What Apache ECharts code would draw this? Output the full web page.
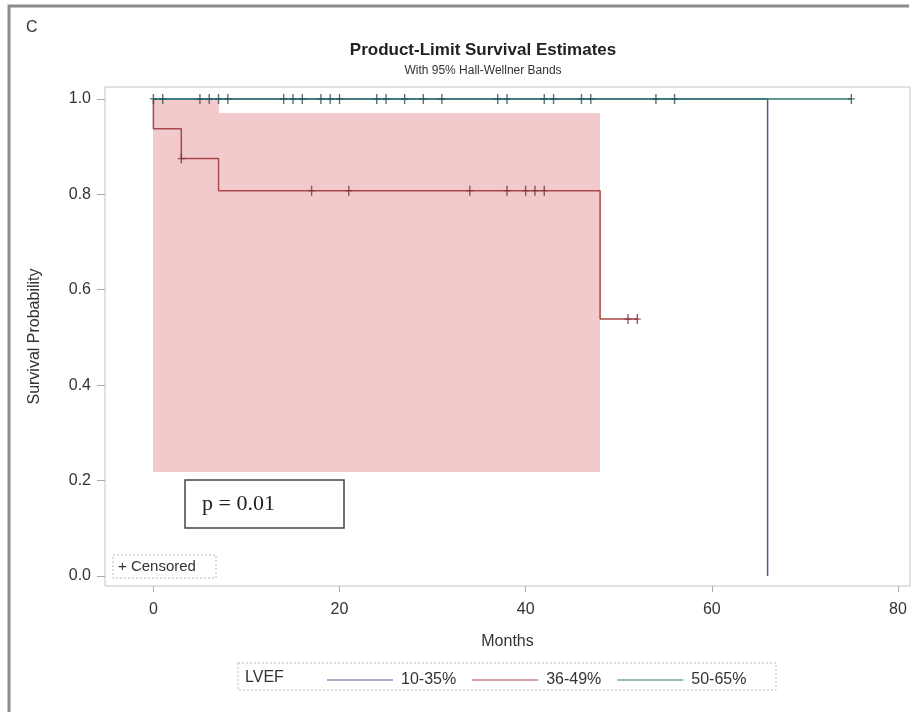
<!DOCTYPE html>
<html>
<head>
<meta charset="utf-8">
<script src="https://cdn.jsdelivr.net/npm/echarts@6/dist/echarts.min.js"></script>
<style>
  html, body { margin: 0; padding: 0; background: #fff; }
  #chart { width: 913px; height: 712px; }
</style>
</head>
<body>
<div id="chart"></div>
<script>
// ---- data ----
const groupNames = ['10-35%', '36-49%', '50-65%'];

// 10-35%
const blueTimes = [0, 66];
const blueSurv  = [1.0, 0.0];

// 36-49%
const redTimes = [0, 0, 3, 7, 48, 52];
const redSurv  = [1.0, 0.9375, 0.875, 0.8077, 0.5385, 0.5385];
const redCensorTimes = [3, 17, 21, 34, 38, 40, 41, 42, 51, 52];
const redCensorSurv  = [0.875, 0.8077, 0.8077, 0.8077, 0.8077, 0.8077, 0.8077, 0.8077, 0.5385, 0.5385];

// 50-65%
const greenTimes = [0, 75];
const greenSurv  = [1.0, 1.0];
const greenCensorTimes = [0, 1, 5, 6, 7, 8, 14, 15, 16, 18, 19, 20, 24, 25, 27, 29, 31, 37, 38, 42, 43, 46, 47, 54, 56, 75];
const greenCensorSurv  = [1, 1, 1, 1, 1, 1, 1, 1, 1, 1, 1, 1, 1, 1, 1, 1, 1, 1, 1, 1, 1, 1, 1, 1, 1, 1];

// Hall-Wellner band for 36-49%
const bandStart = [0, 7];
const bandEnd   = [7, 48];
const bandLower = [0.217, 0.217];
const bandUpper = [1.0, 0.97];

// axis ticks
const xTicks = [0, 20, 40, 60, 80];
const yTicks = [0, 0.2, 0.4, 0.6, 0.8, 1.0];

// ---- build ----
const zip = (a, b) => a.map((v, i) => [v, b[i]]);
const bandData = bandStart.map((s, i) => [s, bandEnd[i], bandLower[i], bandUpper[i]]);

const colors = ['#4b5a94', '#a8484a', '#2d7b70'];
const plusPath = 'path://M-0.6,-5 L0.6,-5 L0.6,-0.6 L3,-0.6 L3,0.6 L0.6,0.6 L0.6,5 L-0.6,5 L-0.6,0.6 L-3,0.6 L-3,-0.6 L-0.6,-0.6 Z';
const FONT = 'Liberation Sans, Arial, sans-serif';

const chart = echarts.init(document.getElementById('chart'), null, { renderer: 'canvas' });

const option = {
  animation: false,
  backgroundColor: '#ffffff',
  textStyle: { fontFamily: FONT },
  title: {
    text: 'Product-Limit Survival Estimates',
    subtext: 'With 95% Hall-Wellner Bands',
    left: 478,
    textAlign: 'center',
    top: 37,
    itemGap: 6,
    textStyle: { fontSize: 17, fontWeight: 'bold', color: '#222', fontFamily: FONT },
    subtextStyle: { fontSize: 12, color: '#333', fontFamily: FONT }
  },
  grid: {
    left: 105, right: 3, top: 87, bottom: 126,
    show: true, borderColor: '#c4c4c4', borderWidth: 1, backgroundColor: 'transparent'
  },
  xAxis: {
    type: 'value',
    min: -5.2, max: 81.3,
    name: 'Months',
    nameLocation: 'middle',
    nameGap: 48,
    nameTextStyle: { fontSize: 16, color: '#333', fontFamily: FONT },
    axisLine: { show: false, onZero: false },
    splitLine: { show: false },
    axisTick: { show: true, customValues: xTicks, length: 6, lineStyle: { color: '#aaa' } },
    axisLabel: { customValues: xTicks, fontSize: 16, color: '#333', margin: 16, fontFamily: FONT }
  },
  yAxis: {
    type: 'value',
    min: -0.021, max: 1.025,
    name: 'Survival Probability',
    nameLocation: 'middle',
    nameGap: 62,
    nameTextStyle: { fontSize: 16, color: '#333', fontFamily: FONT },
    axisLine: { show: false, onZero: false },
    splitLine: { show: false },
    axisTick: { show: true, customValues: yTicks, length: 8, lineStyle: { color: '#aaa' } },
    axisLabel: {
      customValues: yTicks, fontSize: 16, color: '#333', margin: 14, fontFamily: FONT,
      formatter: v => v.toFixed(1)
    }
  },
  legend: {
    data: groupNames,
    left: 322, top: 667,
    icon: 'rect', itemWidth: 66, itemHeight: 1.2, itemGap: 16,
    textStyle: { fontSize: 16, color: '#333', padding: [0, 0, 0, 3], fontFamily: FONT }
  },
  series: [
    {
      type: 'custom',
      name: 'band',
      data: bandData,
      z: 1,
      silent: true,
      renderItem: (params, api) => {
        const p0 = api.coord([api.value(0), api.value(3)]);
        const p1 = api.coord([api.value(1), api.value(2)]);
        const x0 = Math.round(p0[0]), x1 = Math.round(p1[0]);
        const y0 = Math.round(p0[1]), y1 = Math.round(p1[1]);
        return {
          type: 'rect',
          shape: { x: x0, y: y0, width: x1 - x0, height: y1 - y0 },
          style: { fill: '#f2cacc' }
        };
      }
    },
    {
      type: 'line', name: groupNames[0], data: zip(blueTimes, blueSurv), step: 'end',
      showSymbol: false, symbol: 'none', color: colors[0], lineStyle: { width: 1.5, color: colors[0] }, z: 3
    },
    {
      type: 'line', name: groupNames[1], data: zip(redTimes, redSurv), step: 'end',
      showSymbol: false, symbol: 'none', color: colors[1], lineStyle: { width: 1.5, color: colors[1] }, z: 4
    },
    {
      type: 'line', name: groupNames[2], data: zip(greenTimes, greenSurv), step: 'end',
      showSymbol: false, symbol: 'none', color: colors[2], lineStyle: { width: 1.5, color: colors[2] }, z: 5
    },
    {
      type: 'scatter', name: 'censor-red', data: zip(redCensorTimes, redCensorSurv),
      symbol: plusPath, symbolSize: [7, 10], itemStyle: { color: '#7a3234' }, z: 6
    },
    {
      type: 'scatter', name: 'censor-green', data: zip(greenCensorTimes, greenCensorSurv),
      symbol: plusPath, symbolSize: [7, 10], itemStyle: { color: '#2a4f55' }, z: 6
    }
  ],
  graphic: [
    // outer frame
    { type: 'polyline', shape: { points: [[9, 712], [9, 6], [909, 6]] },
      style: { stroke: '#8c8c8c', lineWidth: 3, fill: null }, z: 100 },
    // panel letter
    { type: 'text', left: 26, top: 20,
      style: { text: 'C', fontSize: 16, fill: '#333', fontFamily: FONT }, z: 100 },
    // p-value box
    { type: 'rect', shape: { x: 185, y: 480, width: 159, height: 48 },
      style: { fill: '#fff', stroke: '#444', lineWidth: 1.5 }, z: 100 },
    { type: 'text', x: 202, y: 504,
      style: { text: 'p = 0.01', fontSize: 22, fill: '#222', fontFamily: 'Liberation Serif, Times New Roman, serif', verticalAlign: 'middle' }, z: 101 },
    // censored legend box
    { type: 'rect', shape: { x: 113, y: 555, width: 103, height: 23 },
      style: { fill: '#fff', stroke: '#bbb', lineWidth: 1, lineDash: [2, 2] }, z: 100 },
    { type: 'text', x: 118, y: 567,
      style: { text: '+ Censored', fontSize: 15, fill: '#333', fontFamily: FONT, verticalAlign: 'middle' }, z: 101 },
    // group legend box
    { type: 'rect', shape: { x: 238, y: 663, width: 538, height: 27 },
      style: { fill: null, stroke: '#bbb', lineWidth: 1, lineDash: [2, 2] }, z: 100 },
    { type: 'text', x: 245, y: 678,
      style: { text: 'LVEF', fontSize: 16, fill: '#333', fontFamily: FONT, verticalAlign: 'middle' }, z: 101 }
  ]
};

chart.setOption(option);
</script>
</body>
</html>
